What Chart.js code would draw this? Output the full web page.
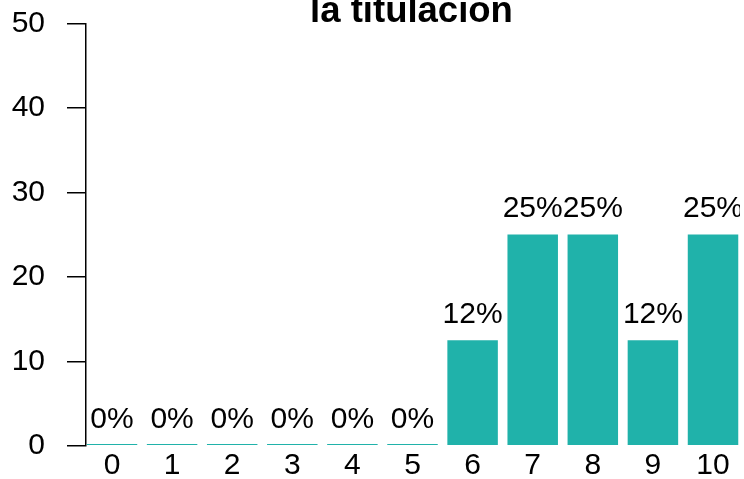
<!DOCTYPE html>
<html>
<head>
<meta charset="utf-8">
<script src="https://cdn.jsdelivr.net/npm/chart.js@4"></script>
<style>
  html, body { margin: 0; padding: 0; background: #fff; }
  #wrap { width: 740px; height: 479px; position: relative; }
</style>
</head>
<body>
<div id="wrap"><canvas id="c" width="740" height="479"></canvas></div>
<script>
const categories = ["0", "1", "2", "3", "4", "5", "6", "7", "8", "9", "10"];
const values = [0, 0, 0, 0, 0, 0, 12.5, 25, 25, 12.5, 25];
const pctLabels = ["0%", "0%", "0%", "0%", "0%", "0%", "12%", "25%", "25%", "12%", "25%"];
const yTicks = [0, 10, 20, 30, 40, 50];
const titleText = "la titulacion";

const FONT = "'Liberation Sans', Arial, Helvetica, sans-serif";

const labelPlugin = {
  id: 'pctLabels',
  afterDatasetsDraw(chart) {
    const ctx = chart.ctx;
    const meta = chart.getDatasetMeta(0);
    const ys = chart.scales.y;
    ctx.save();
    ctx.font = "30px " + FONT;
    ctx.fillStyle = "#000";
    ctx.textAlign = "center";
    ctx.textBaseline = "alphabetic";
    meta.data.forEach((el, i) => {
      const y = ys.getPixelForValue(values[i]) - 17.5;
      ctx.fillText(pctLabels[i], el.x, y);
    });
    ctx.restore();
  }
};

const titlePlugin = {
  id: 'cutTitle',
  afterDraw(chart) {
    const ctx = chart.ctx;
    ctx.save();
    ctx.font = "bold 36.5px " + FONT;
    ctx.fillStyle = "#000";
    ctx.textAlign = "center";
    ctx.textBaseline = "alphabetic";
    ctx.fillText(titleText, 411.5, 22);
    ctx.restore();
  }
};

function zeroPad(scale) {
  scale.paddingTop = 0;
  scale.paddingBottom = 0;
  scale.paddingLeft = 0;
  scale.paddingRight = 0;
}

new Chart(document.getElementById('c'), {
  type: 'bar',
  data: {
    datasets: [{
      data: values.map((v, i) => ({ x: i, y: v })),
      backgroundColor: '#20B2AA',
      borderWidth: 0,
      barPercentage: 0.84,
      categoryPercentage: 1,
      minBarLength: 1.6
    }]
  },
  options: {
    responsive: false,
    animation: false,
    devicePixelRatio: 1,
    layout: { padding: { top: 23.5, left: 0, right: 0, bottom: 0 } },
    plugins: { legend: { display: false }, tooltip: { enabled: false }, title: { display: false } },
    scales: {
      x: {
        type: 'linear',
        offset: false,
        min: -0.4326,
        max: 10.449,
        grid: { display: false, drawTicks: false },
        border: { display: false },
        afterBuildTicks(scale) { scale.ticks = categories.map((c, i) => ({ value: i })); },
        afterFit(scale) { scale.height = 33.3; zeroPad(scale); },
        ticks: {
          autoSkip: false,
          maxRotation: 0,
          includeBounds: false,
          padding: 2,
          color: '#000',
          font: { size: 30, family: FONT },
          callback: (v) => categories[v]
        }
      },
      y: {
        min: 0,
        max: 50,
        afterBuildTicks(scale) { scale.ticks = yTicks.map(v => ({ value: v })); },
        afterFit(scale) { scale.width = 86; zeroPad(scale); },
        grid: { drawOnChartArea: false, drawTicks: true, tickLength: 19, color: '#000', lineWidth: 1.5 },
        border: { display: true, color: '#000', width: 1.5 },
        ticks: {
          padding: 22,
          color: '#000',
          font: { size: 30, family: FONT }
        }
      }
    }
  },
  plugins: [labelPlugin, titlePlugin]
});
</script>
</body>
</html>
